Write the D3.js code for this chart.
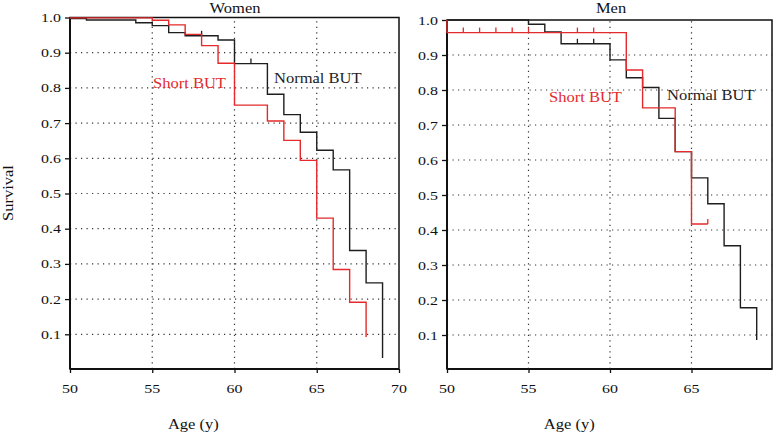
<!DOCTYPE html>
<html><head><meta charset="utf-8">
<script src="https://cdn.jsdelivr.net/npm/d3@7"></script>
<style>html,body{margin:0;padding:0;background:#fff;}svg{display:block;}</style>
</head><body><svg id="c" width="773" height="434"></svg>
<script>
// ---- data ----
const yTicks = [0.1,0.2,0.3,0.4,0.5,0.6,0.7,0.8,0.9,1.0];
const xTicksWomen = [50,55,60,65,70];
const xTicksMen = [50,55,60,65];

const womenNormalT = [50,51,54,55,56,57,59,60,62,63,64,65,66,67,68,69];
const womenNormalS = [0.997,0.993,0.985,0.977,0.957,0.948,0.936,0.869,0.782,0.724,0.674,0.623,0.567,0.338,0.246,0.033];
const womenNormalCensor = [58,61];

const womenShortT = [50,55,56,57,58,59,60,62,63,64,65,66,67,68];
const womenShortS = [0.999,0.992,0.979,0.952,0.920,0.870,0.751,0.706,0.651,0.594,0.430,0.284,0.191,0.092];
const womenShortCensor = [];

const menNormalT = [50,55,56,57,60,61,62,63,64,65,66,67,68,69];
const menNormalS = [1.0,0.988,0.966,0.932,0.886,0.835,0.807,0.719,0.624,0.549,0.475,0.355,0.178,0.086];
const menNormalCensor = [58,59];

const menShortT = [50,61,62,64,65,66];
const menShortS = [0.964,0.857,0.749,0.624,0.417,0.417];
const menShortCensor = [51,52,53,54,55,58,59,66];

const panels = [
  {title:"Women", xr:[70,399], yr:[369.5,17.5], xTicks:xTicksWomen, frameRight:399,
   series:[{t:womenNormalT,s:womenNormalS,c:womenNormalCensor,color:"#1e1e1e"},
           {t:womenShortT,s:womenShortS,c:womenShortCensor,color:"#e42a2a"}],
   labels:[{text:"Short BUT",x:153,y:88,color:"#e42a2a"},{text:"Normal BUT",x:274,y:83,color:"#1e1e1e"}],
   titleX:235,titleY:13},
  {title:"Men", xr:[447,773], yr:[370,20], xTicks:xTicksMen, frameRight:772,
   series:[{t:menNormalT,s:menNormalS,c:menNormalCensor,color:"#1e1e1e"},
           {t:menShortT,s:menShortS,c:menShortCensor,color:"#e42a2a"}],
   labels:[{text:"Short BUT",x:549,y:102,color:"#e42a2a"},{text:"Normal BUT",x:667,y:100,color:"#1e1e1e"}],
   titleX:611,titleY:13}
];

const SX = 1.18;
const FONT = "'Liberation Serif', 'Times New Roman', serif";
const svg = d3.select("#c");

function txt(g, s, x, y, opts) {
  opts = opts || {};
  return g.append("text")
    .attr("transform", `translate(${x},${y}) scale(${SX},1)`)
    .attr("font-family", FONT)
    .attr("font-size", opts.size || 14)
    .attr("text-anchor", opts.anchor || "start")
    .attr("fill", opts.fill || "#111")
    .text(s);
}

panels.forEach(p => {
  const x = d3.scaleLinear().domain([50,70]).range(p.xr);
  const y = d3.scaleLinear().domain([0,1]).range(p.yr);
  const g = svg.append("g");
  const x0 = p.xr[0], xR = p.frameRight, yB = 369, yT = y(1);

  // grid
  g.selectAll(".hg").data(yTicks.filter(v => v < 1)).enter().append("line")
    .attr("x1", x0).attr("x2", xR).attr("y1", d => y(d)).attr("y2", d => y(d))
    .attr("stroke", "#333").attr("stroke-width", 1.2).attr("stroke-dasharray", "1.2,4.3");
  g.selectAll(".vg").data([55,60,65]).enter().append("line")
    .attr("x1", d => x(d)).attr("x2", d => x(d)).attr("y1", yB).attr("y2", yT)
    .attr("stroke", "#333").attr("stroke-width", 1.2).attr("stroke-dasharray", "1.2,4.3");

  // axes
  const ax = d3.axisBottom(x).tickValues(p.xTicks).tickSize(4).tickFormat(d3.format("d"));
  const axG = g.append("g").attr("transform", `translate(0,${yB})`).call(ax);
  const ay = d3.axisLeft(y).tickValues(yTicks).tickSize(5).tickFormat(d3.format(".1f"));
  const ayG = g.append("g").attr("transform", `translate(${x0},0)`).call(ay);
  [axG, ayG].forEach(a => {
    a.select(".domain").remove();
    a.selectAll(".tick line").attr("stroke", "#111").attr("stroke-width", 1.3);
    a.selectAll(".tick text").remove();
  });
  p.xTicks.forEach(v => txt(g, String(v), x(v), 393, {size:13.5, anchor:"middle"}));
  yTicks.forEach(v => txt(g, d3.format(".1f")(v), x0 - 9, y(v) + 4.5, {size:13.5, anchor:"end"}));

  // frame
  g.append("rect").attr("x", x0).attr("y", yT).attr("width", xR - x0).attr("height", yB - yT)
    .attr("fill", "none").attr("stroke", "#111").attr("stroke-width", 1.5);
  g.append("line").attr("x1", x0).attr("x2", x0).attr("y1", yT).attr("y2", yB)
    .attr("stroke", "#111").attr("stroke-width", 2);
  g.append("line").attr("x1", x0).attr("x2", xR).attr("y1", yB).attr("y2", yB)
    .attr("stroke", "#111").attr("stroke-width", 2);

  // survival curves
  const line = d3.line().x(d => x(d[0])).y(d => y(d[1])).curve(d3.curveStepAfter);
  p.series.forEach(sr => {
    const pts = [[50,1.0]].concat(sr.t.map((t,i) => [t, sr.s[i]]));
    g.append("path").attr("d", line(pts)).attr("fill", "none")
      .attr("stroke", sr.color).attr("stroke-width", 1.4);
    const survAt = t => { let v = 1; sr.t.forEach((tt,i) => { if (tt <= t) v = sr.s[i]; }); return v; };
    sr.c.forEach(ct => {
      g.append("line").attr("x1", x(ct)).attr("x2", x(ct))
        .attr("y1", y(survAt(ct))).attr("y2", y(survAt(ct)) - 5)
        .attr("stroke", sr.color).attr("stroke-width", 1.3);
    });
  });

  p.labels.forEach(l => txt(g, l.text, l.x, l.y, {size:14, fill:l.color}));
  txt(g, p.title, p.titleX, p.titleY, {size:14, anchor:"middle"});
  txt(g, "Age (y)", (x(50) + x(65)) / 2, 429, {size:14, anchor:"middle"});
});

// y label
svg.append("text")
  .attr("transform", "translate(13,193) rotate(-90) scale(1.18,1)")
  .attr("font-family", FONT).attr("font-size", 14).attr("text-anchor", "middle").attr("fill", "#111")
  .text("Survival");
</script></body></html>
